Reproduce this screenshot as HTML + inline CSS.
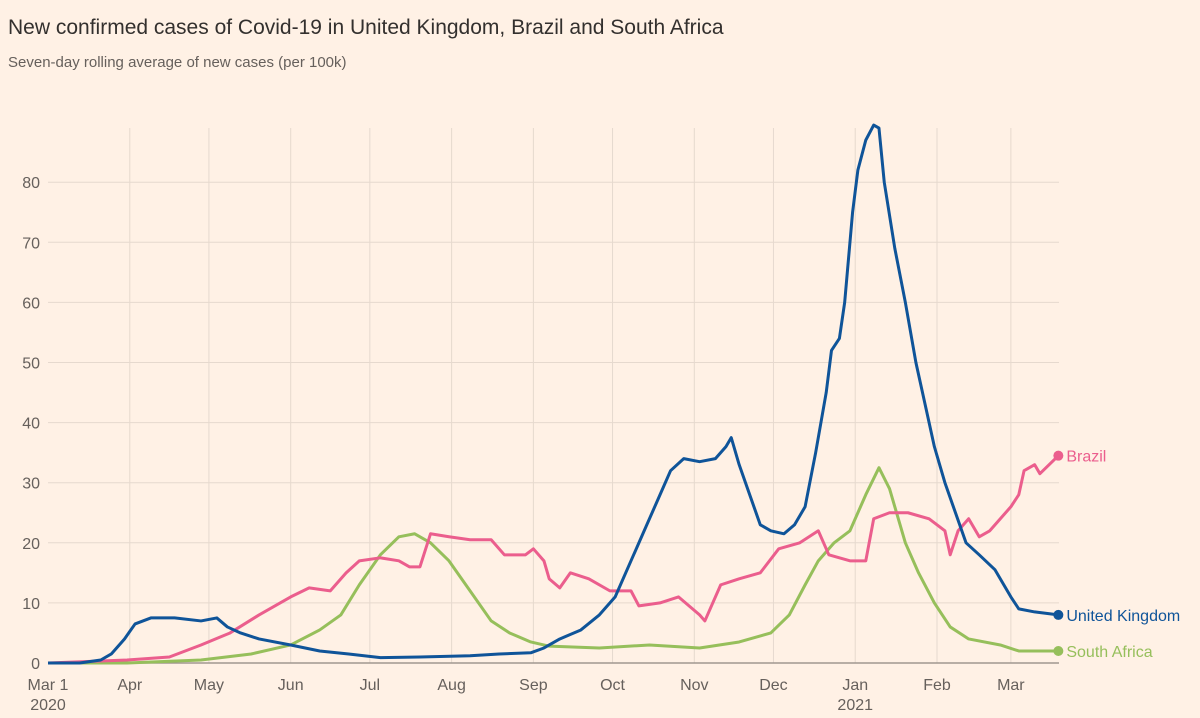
<!DOCTYPE html>
<html><head><meta charset="utf-8"><style>
body{margin:0;background:#fff1e5;width:1200px;height:713px;overflow:hidden;font-family:"Liberation Sans",sans-serif}
</style></head><body>
<svg width="1200" height="713" id="c">
<text x="8" y="34" font-size="21" fill="#33302e">New confirmed cases of Covid-19 in United Kingdom, Brazil and South Africa</text>
<text x="8" y="67" font-size="15" fill="#66605c">Seven-day rolling average of new cases (per 100k)</text>
</svg>
<script>
const months=["Mar 1","Apr","May","Jun","Jul","Aug","Sep","Oct","Nov","Dec","Jan","Feb","Mar"];
const monthDays=[0,31,61,92,122,153,184,214,245,275,306,337,365];
const yTicks=[0,10,20,30,40,50,60,70,80];
const ukDays=[0,12,20,24,29,33,39,48,58,64,68,73,80,92,103,114,126,141,160,171,183,188,194,202,209,215,221,226,232,236,241,247,253,257,259,262,266,270,274,279,283,287,291,295,297,300,302,305,307,310,313,315,317,321,325,329,333,336,340,344,348,353,359,365,368,374,383];
const ukVals=[0,0,0.5,1.5,4,6.5,7.5,7.5,7,7.5,6,5,4,3,2,1.5,0.9,1,1.2,1.5,1.7,2.5,4,5.5,8,11,17,22,28,32,34,33.5,34,36,37.5,33,28,23,22,21.5,23,26,35,45,52,54,60,75,82,87,89.5,89,80,69,60,50,42,36,30,25,20,18,15.5,11,9,8.5,8];
const brDays=[0,30,46,58,69,80,92,99,107,113,118,126,133,137,141,145,152,160,168,173,181,184,188,190,194,198,205,213,221,224,232,239,247,249,255,262,270,277,285,292,296,304,310,313,319,326,334,340,342,345,349,353,357,361,365,368,370,374,376,383];
const brVals=[0,0.5,1,3,5,8,11,12.5,12,15,17,17.5,17,16,16,21.5,21,20.5,20.5,18,18,19,17,14,12.5,15,14,12,12,9.5,10,11,8,7,13,14,15,19,20,22,18,17,17,24,25,25,24,22,18,22,24,21,22,24,26,28,32,33,31.5,34.5];
const saDays=[0,30,58,77,92,103,111,118,126,133,139,145,152,160,168,175,183,190,209,228,247,262,274,281,287,292,298,304,310,315,319,325,330,336,342,349,361,368,383];
const saVals=[0,0,0.5,1.5,3,5.5,8,13,18,21,21.5,20,17,12,7,5,3.5,2.8,2.5,3,2.5,3.5,5,8,13,17,20,22,28,32.5,29,20,15,10,6,4,3,2,2];
const x=d=>48+d*2.638, y=v=>663-v*6.01;
const s=document.getElementById('c'),NS="http://www.w3.org/2000/svg";
function mk(t,a,txt){const e=document.createElementNS(NS,t);for(const k in a)e.setAttribute(k,a[k]);if(txt!==undefined)e.textContent=txt;s.appendChild(e);return e;}
yTicks.forEach(v=>{if(v>0){const g=mk('line',{x1:48,x2:1059,y1:y(v),y2:y(v),stroke:'#e6d9ce','stroke-width':1});

}
const t=mk('text',{x:40,y:y(v)+6,'text-anchor':'end','font-size':16,fill:'#66605c'},v);

});
months.forEach((m,i)=>{const xx=x(monthDays[i]);
if(i>0){const g=mk('line',{x1:xx,x2:xx,y1:128,y2:663,stroke:'#e6d9ce','stroke-width':1});

}
const t=mk('text',{x:xx,y:690,'text-anchor':'middle','font-size':16,fill:'#66605c'},m);

});
[["2020",0],["2021",306]].forEach(([l,d])=>{const t=mk('text',{x:x(d),y:710,'text-anchor':'middle','font-size':16,fill:'#66605c'},l);

});
const b=mk('line',{x1:48,x2:1059,y1:663,y2:663,stroke:'#a09890','stroke-width':1.5});


function series(days,vals,col,name,label,dy){
const p=mk('polyline',{points:days.map((d,i)=>x(d)+','+y(vals[i])).join(' '),fill:'none',stroke:col,'stroke-width':3,'stroke-linejoin':'round'});


const ld=days[days.length-1],lv=vals[vals.length-1];
const c=mk('circle',{cx:x(ld),cy:y(lv),r:5,fill:col});


const t=mk('text',{x:x(ld)+8,y:y(lv)+6+dy,'font-size':16,fill:col},label);

}
series(saDays,saVals,'#96bf5b','south-africa','South Africa',0);
series(brDays,brVals,'#eb5e8d','brazil','Brazil',0);
series(ukDays,ukVals,'#0f5499','united-kingdom','United Kingdom',0);
</script>
</body></html>
